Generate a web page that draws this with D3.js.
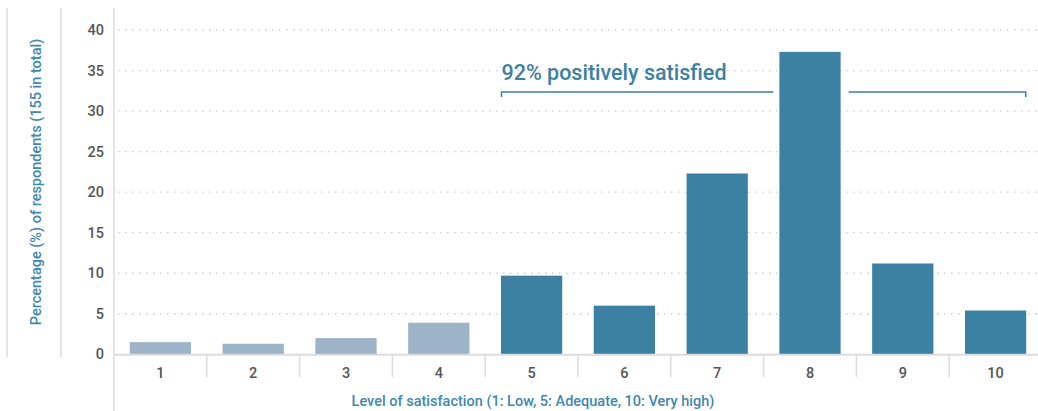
<!DOCTYPE html>
<html><head><meta charset="utf-8">
<script src="https://cdn.jsdelivr.net/npm/d3@7"></script>
<style>
html,body{margin:0;padding:0;background:#fff;}
svg{display:block;font-family:Roboto,"Open Sans",sans-serif;}
</style></head>
<body><svg id="c" width="1038" height="411"></svg>
<script>
const categories = ["1","2","3","4","5","6","7","8","9","10"];
const values = [1.5, 1.3, 2.0, 3.9, 9.7, 6.0, 22.3, 37.3, 11.2, 5.4];
const positive = [false,false,false,false,true,true,true,true,true,true];
const yTicks = [0,5,10,15,20,25,30,35,40];
const yTitle = "Percentage (%) of respondents (155 in total)";
const xTitle = "Level of satisfaction (1: Low, 5: Adequate, 10: Very high)";
const annotation = "92% positively satisfied";

(function(){
const svg = d3.select("#c");
const pL = 114, pR = 1042, pT = 30, pB = 354.3;
const x = d3.scaleBand().domain(categories).range([pL, pR]).paddingInner(0.34).paddingOuter(0.17);
const y = d3.scaleLinear().domain([0, 40]).range([pB, pT]);

// decorative left rules
svg.append("line").attr("x1",7).attr("x2",7).attr("y1",8).attr("y2",357).attr("stroke","#dcdcdc").attr("stroke-width",1.5);
svg.append("line").attr("x1",61).attr("x2",61).attr("y1",8).attr("y2",357).attr("stroke","#dcdcdc").attr("stroke-width",1.5);
svg.append("line").attr("x1",pL).attr("x2",pL).attr("y1",8).attr("y2",411).attr("stroke","#dcdcdc").attr("stroke-width",1.5);

// gridlines
svg.append("g").selectAll("line").data(yTicks.filter(d=>d>0)).join("line")
  .attr("x1",pL+4).attr("x2",1038).attr("y1",d=>y(d)).attr("y2",d=>y(d))
  .attr("stroke","#cfcfcf").attr("stroke-width",1.3).attr("stroke-dasharray","1.5,5.5");

// y tick labels
svg.append("g").selectAll("text").data(yTicks).join("text")
  .attr("x",104).attr("y",d=>y(d)).attr("dy","0.35em").attr("text-anchor","end")
  .attr("font-size",14.5).attr("font-weight",500).attr("fill","#555").text(d=>d);

// bars
svg.append("g").selectAll("rect").data(categories).join("rect")
  .attr("x",d=>x(d)).attr("width",x.bandwidth())
  .attr("y",(d,i)=>y(values[i])).attr("height",(d,i)=>y(0)-y(values[i]))
  .attr("fill",(d,i)=>positive[i]?"#3c81a2":"#9cb3c8");

// baseline
svg.append("line").attr("x1",pL).attr("x2",1038).attr("y1",pB+0.5).attr("y2",pB+0.5).attr("stroke","#dcdcdc").attr("stroke-width",2);

// category separators
const gap = x.step() - x.bandwidth();
svg.append("g").selectAll("line").data(categories.slice(1)).join("line")
  .attr("x1",d=>x(d)-gap/2).attr("x2",d=>x(d)-gap/2)
  .attr("y1",pB).attr("y2",377).attr("stroke","#dcdcdc").attr("stroke-width",1.5);

// x labels
svg.append("g").selectAll("text").data(categories).join("text")
  .attr("x",d=>x(d)+x.bandwidth()/2).attr("y",373).attr("dy","0.35em").attr("text-anchor","middle")
  .attr("font-size",14.5).attr("font-weight",500).attr("fill","#555").text(d=>d);

// axis titles
svg.append("text").attr("transform","translate(41,182) rotate(-90)").attr("text-anchor","middle")
  .attr("font-size",14.5).attr("font-weight",500).attr("fill","#3f88ae").text(yTitle);
svg.append("text").attr("x",533).attr("y",406).attr("text-anchor","middle")
  .attr("font-size",14.5).attr("font-weight",500).attr("fill","#3f88ae").text(xTitle);

// annotation bracket
const bx1 = x("5") + 0.5, bx2 = x("10") + x.bandwidth() - 0.5, by = 92;
const gapL = x("8") - 6, gapR = x("8") + x.bandwidth() + 8;
const ann = svg.append("g").attr("stroke","#3c81a2").attr("stroke-width",1.5).attr("fill","none");
ann.append("path").attr("d",`M${bx1},${by+5}V${by}H${gapL}`);
ann.append("path").attr("d",`M${gapR},${by}H${bx2}V${by+5}`);
svg.append("text").attr("x",bx1).attr("y",80).attr("font-size",21.5).attr("font-weight",500)
  .attr("fill","#3c81a2").text(annotation);
})();
</script></body></html>
